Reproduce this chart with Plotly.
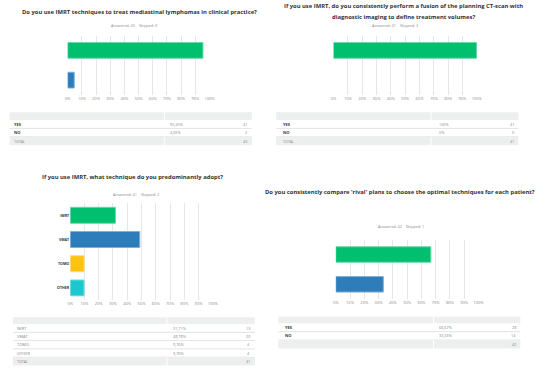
import plotly.graph_objects as go

W, H = 550, 378

# ---------------- data ----------------
q1_title = "Do you use IMRT techniques to treat mediastinal lymphomas in clinical practice?"
q1_answered, q1_skipped = 43, 0
q1_cats = ["YES", "NO"]
q1_pct = [95.35, 4.65]
q1_pct_txt = ["95,35%", "4,65%"]
q1_counts = [41, 2]
q1_total = 43

q2_title_l1 = "If you use IMRT, do you consistently perform a fusion of the planning CT-scan with"
q2_title_l2 = "diagnostic imaging to define treatment volumes?"
q2_answered, q2_skipped = 41, 2
q2_cats = ["YES", "NO"]
q2_pct = [100, 0]
q2_pct_txt = ["100%", "0%"]
q2_counts = [41, 0]
q2_total = 41

q3_title = "If you use IMRT, what technique do you predominantly adopt?"
q3_answered, q3_skipped = 41, 2
q3_cats = ["IMRT", "VMAT", "TOMO", "OTHER"]
q3_pct = [31.71, 48.78, 9.76, 9.76]
q3_pct_txt = ["31,71%", "48,78%", "9,76%", "9,76%"]
q3_counts = [13, 20, 4, 4]
q3_total = 41

q4_title = "Do you consistently compare 'rival' plans to choose the optimal techniques for each patient?"
q4_answered, q4_skipped = 42, 1
q4_cats = ["YES", "NO"]
q4_pct = [66.67, 33.33]
q4_pct_txt = ["66,67%", "33,33%"]
q4_counts = [28, 14]
q4_total = 42

tick_vals = [0, 10, 20, 30, 40, 50, 60, 70, 80, 90, 100]
tick_text = ["0%", "10%", "20%", "30%", "40%", "50%", "60%", "70%", "80%", "90%", "100%"]

GREEN, BLUE, YELLOW, TEAL = "#00BF6F", "#2D7DBA", "#FFC20E", "#1CC8D0"
EDGE = {"#00BF6F": "#66D9A8", "#2D7DBA": "#7FB0D6", "#FFC20E": "#FFDB7A", "#1CC8D0": "#80E0E4"}

def X(p):
    return p / W

def Y(p):
    return 1 - p / H

fig = go.Figure()
annos = []
shapes = []

FONT = "Open Sans"

panels = [
    dict(cats=q1_cats, pct=q1_pct, colors=[GREEN, BLUE], xd=(65.7, 210), yd=(35.5, 95), gap=0.47, ylab=False),
    dict(cats=q2_cats, pct=q2_pct, colors=[GREEN, BLUE], xd=(336, 481.7), yd=(35.5, 95), gap=0.47, ylab=False),
    dict(cats=q3_cats, pct=q3_pct, colors=[GREEN, BLUE, YELLOW, TEAL], xd=(68.3, 213.3), yd=(203.2, 300), gap=0.34, ylab=True),
    dict(cats=q4_cats, pct=q4_pct, colors=[GREEN, BLUE], xd=(338.3, 483.3), yd=(239.6, 299.2), gap=0.48, ylab=False),
]

layout_axes = {}
for i, p in enumerate(panels, start=1):
    xa = "x" if i == 1 else f"x{i}"
    ya = "y" if i == 1 else f"y{i}"
    fig.add_trace(go.Bar(
        x=p["pct"], y=p["cats"], orientation="h", xaxis=xa, yaxis=ya,
        marker=dict(color=p["colors"],
                    line=dict(color=[EDGE[c] for c in p["colors"]],
                              width=[1 if v > 0 else 0 for v in p["pct"]])),
        width=1 - p["gap"], hoverinfo="skip", showlegend=False,
    ))
    xk = "xaxis" if i == 1 else f"xaxis{i}"
    yk = "yaxis" if i == 1 else f"yaxis{i}"
    layout_axes[xk] = dict(
        domain=[X(p["xd"][0]), X(p["xd"][1])], range=[0, 100], anchor=ya,
        tickvals=tick_vals, ticktext=tick_text, showgrid=True, gridcolor="#E6E6E6", gridwidth=1,
        zeroline=False, showline=False, ticks="", tickfont=dict(size=4, color="#8A8A8A", family=FONT),
        fixedrange=True,
    )
    layout_axes[yk] = dict(
        domain=[Y(p["yd"][1]), Y(p["yd"][0])], anchor=xa, autorange="reversed",
        showgrid=False, zeroline=False, showline=False, ticks="",
        showticklabels=p["ylab"], tickfont=dict(size=3.6, color="#333333", family=FONT),
        fixedrange=True,
    )
fig.update_layout(**layout_axes)

fig.update_layout(yaxis3=dict(ticktext=[f"<b>{c}</b>" for c in q3_cats], tickvals=q3_cats))

def text(x, y, s, size=4, color="#777777", bold=False, xanchor="left"):
    annos.append(dict(
        x=X(x), y=Y(y), xref="paper", yref="paper", showarrow=False,
        text=f"<b>{s}</b>" if bold else s, xanchor=xanchor, yanchor="middle",
        font=dict(size=size, color=color, family=FONT),
    ))

# titles
TITLE_SIZE = 5.85
text(138.5, 12.3, q1_title, TITLE_SIZE, "#333333", True, "center")
text(407.5, 6.2, q2_title_l1, TITLE_SIZE, "#333333", True, "center")
text(407.5, 17.3, q2_title_l2, TITLE_SIZE, "#333333", True, "center")
text(132, 176.7, q3_title, TITLE_SIZE, "#333333", True, "center")
text(404, 192.3, q4_title, TITLE_SIZE, "#333333", True, "center")

def answered(xc, y, a, s):
    text(xc, y, f"Answered: {a}&nbsp;&nbsp;&nbsp;&nbsp;Skipped: {s}", 3.8, "#8A8A8A", False, "center")

answered(133, 25.5, q1_answered, q1_skipped)
answered(399, 25.7, q2_answered, q2_skipped)
answered(135, 194, q3_answered, q3_skipped)
answered(405, 226.7, q4_answered, q4_skipped)

def rect(x0, y0, x1, y1, fill):
    shapes.append(dict(type="rect", xref="paper", yref="paper", x0=X(x0), x1=X(x1), y0=Y(y1), y1=Y(y0),
                       fillcolor=fill, line=dict(width=0), layer="below"))

def hline(x0, x1, y, color="#E2E4E4"):
    shapes.append(dict(type="line", xref="paper", yref="paper", x0=X(x0), x1=X(x1), y0=Y(y), y1=Y(y),
                       line=dict(color=color, width=1), layer="below"))

def table(x0, x1, xdiv, ytop, hh, rh, labels, pcts, counts, total, bold, lab_x, pct_x, show_total_label=True):
    GRAY = "#EDEFEF"
    rect(x0, ytop, x1, ytop + hh, GRAY)
    y = ytop + hh
    for lab, pt, c in zip(labels, pcts, counts):
        hline(x0, x1, y + rh)
        cy = y + rh / 2
        if bold:
            text(lab_x, cy, lab, 4, "#333333", True)
        else:
            text(lab_x, cy, lab, 4, "#888888", False)
        text(pct_x, cy, pt, 3.8, "#888888")
        text(x1 - 2.5, cy, str(c), 3.8, "#888888", False, "right")
        y += rh
    rect(x0, y, x1, y + rh, GRAY)
    cy = y + rh / 2
    if show_total_label:
        text(lab_x, cy, "TOTAL", 3.6, "#888888")
    text(x1 - 2.5, cy, str(total), 3.8, "#888888", False, "right")
    shapes.append(dict(type="line", xref="paper", yref="paper", x0=X(xdiv), x1=X(xdiv),
                       y0=Y(ytop + hh), y1=Y(ytop), line=dict(color="white", width=1), layer="below"))
    shapes.append(dict(type="line", xref="paper", yref="paper", x0=X(xdiv), x1=X(xdiv),
                       y0=Y(y + rh), y1=Y(y), line=dict(color="white", width=1), layer="below"))

table(6.7, 253, 164, 112.3, 7.7, 8.4, q1_cats, q1_pct_txt, q1_counts, q1_total, True, 9.5, 168)
table(277.7, 524, 435, 112.3, 7.7, 8.4, q2_cats, q2_pct_txt, q2_counts, q2_total, True, 282.3, 441)
table(10, 256, 166.7, 317.3, 6.7, 8.3, q3_cats, q3_pct_txt, q3_counts, q3_total, False, 12, 170.7)
table(280, 526, 437.7, 316.7, 6.6, 8.4, q4_cats, q4_pct_txt, q4_counts, q4_total, True, 284.3, 441, False)

fig.update_layout(
    width=W, height=H, margin=dict(l=0, r=0, t=0, b=0),
    paper_bgcolor="white", plot_bgcolor="white",
    annotations=annos, shapes=shapes, bargap=0.4,
    font=dict(family=FONT),
)

fig.write_html("out.html", config={"displayModeBar": False},
               post_script="document.body.style.margin='0';document.body.style.padding='0';")
